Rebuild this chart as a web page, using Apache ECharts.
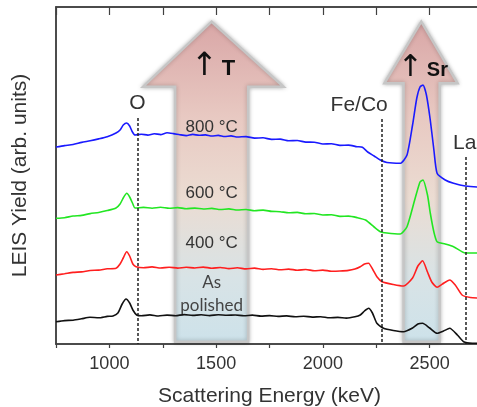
<!DOCTYPE html>
<html><head><meta charset="utf-8">
<script src="https://cdn.jsdelivr.net/npm/echarts@6.0.0/dist/echarts.min.js"></script>
<style>html,body{margin:0;padding:0;background:#fff}#c{width:477px;height:407px}</style>
</head><body><div id="c"></div>
<script>
// Scattering energy (keV) vs LEIS yield (arbitrary units, offset spectra)
const asPolished = [[750,22.3],[790,23.4],[830,23.8],[870,25.2],[909,26.7],[950,26.2],[990,27.6],[1017,28],[1040,31],[1060,40],[1078,45],[1095,41],[1110,34],[1128,29],[1150,28.2],[1190,29.1],[1230,28.0],[1270,28.9],[1310,28.3],[1350,29.4],[1390,28.6],[1430,29.2],[1470,28.4],[1510,29.3],[1550,28.7],[1590,29.0],[1630,28.2],[1670,28.9],[1710,27.9],[1750,28.4],[1790,27.6],[1830,28.1],[1870,27.2],[1910,27.8],[1950,26.9],[1990,27.3],[2030,26.2],[2070,26.6],[2110,25.9],[2150,27.2],[2175,29],[2195,33],[2214,35.7],[2232,31],[2253,20.7],[2284,15.7],[2330,13.5],[2378,12.3],[2420,16],[2445,20],[2467,20.7],[2500,16],[2535,10.7],[2565,13],[2594,15.7],[2630,9],[2659,2.3],[2700,0.8],[2750,0.7]];
const c400 = [[750,69],[790,70.2],[830,71.6],[870,72.1],[910,73.5],[950,73.9],[990,75.2],[1031,75.7],[1050,80],[1065,86],[1081,92.3],[1095,88],[1110,80],[1125,77.3],[1160,76.2],[1200,77.1],[1240,76.0],[1280,76.8],[1320,75.9],[1360,76.7],[1400,76],[1440,76.9],[1480,75.8],[1520,76.5],[1560,75.4],[1600,76.2],[1640,75.1],[1680,75.9],[1720,74.6],[1760,75.3],[1800,74.2],[1840,74.9],[1880,73.8],[1920,74.5],[1960,73.2],[2000,73.9],[2040,72.8],[2080,73],[2120,73.6],[2150,75],[2175,77.3],[2195,80],[2214,80.7],[2235,74],[2253,67.3],[2277,62.3],[2330,59.5],[2378,58],[2420,66],[2445,78],[2467,83.3],[2490,72],[2510,62],[2535,56.7],[2560,60],[2594,64],[2620,59],[2652,49],[2690,46.5],[2750,45.7]];
const c600 = [[750,125.7],[790,126.3],[830,128],[870,128.6],[910,130.4],[950,131.5],[990,133.4],[1031,136],[1050,140],[1065,146],[1081,150.7],[1095,147],[1110,140],[1120,136],[1160,136.6],[1200,135.8],[1240,136.7],[1280,135.7],[1320,136.4],[1360,135.3],[1400,135.9],[1440,135.0],[1480,135.6],[1520,134.5],[1560,135.1],[1600,134],[1640,134.5],[1680,133.3],[1720,133.9],[1760,132.6],[1800,132.3],[1840,131.2],[1880,131.6],[1920,130.2],[1960,130.5],[2000,129],[2040,129.3],[2080,127.6],[2120,127.9],[2160,126.4],[2200,124],[2240,117],[2269,112.3],[2300,111],[2362,110],[2394,117.3],[2430,144],[2455,162],[2469,164],[2490,149],[2503,131],[2520,112],[2535,102.3],[2573,100],[2612,97.3],[2667,91],[2750,91]];
const c800 = [[750,197],[790,198.4],[830,199.5],[870,201.6],[910,203.2],[950,205.1],[990,207.3],[1031,211],[1050,214],[1065,219],[1081,221],[1095,218],[1108,212],[1120,209],[1150,209.8],[1180,208.9],[1210,210.3],[1240,209.4],[1270,211.2],[1300,210.4],[1330,209.3],[1360,208.4],[1390,209.6],[1420,208.7],[1450,209.1],[1480,208.0],[1510,208.6],[1540,207.5],[1570,208.1],[1600,207],[1640,207.4],[1680,205.9],[1720,206.2],[1760,204.6],[1800,204.9],[1840,203.2],[1880,203.5],[1920,201.9],[1960,201.8],[2000,200],[2040,200.3],[2080,198.6],[2120,198.9],[2160,197.3],[2185,196.8],[2210,192],[2240,188],[2269,184],[2300,181.5],[2362,180.7],[2394,189],[2420,219],[2440,246],[2455,257],[2469,259],[2485,249],[2503,224],[2520,194],[2535,170.7],[2573,164],[2612,160.7],[2667,158],[2750,156.7]];
const xTickLabels = [1000,1500,2000,2500];
const elementNames = ['O','Fe/Co','La'];
const elementEnergies = [1131,2277,2670];
const tempLabels = ['800 °C','600 °C','400 °C','As','polished'];

const FONT = "'Liberation Sans', Arial, sans-serif";
const axisColor = '#404040';
const chart = echarts.init(document.getElementById('c'), null, {renderer:'canvas'});

const mk = (name, data, color, z) => ({
  name, type:'line', data, showSymbol:false, smooth:0.2, z,
  lineStyle:{color, width:1.6}, itemStyle:{color}, animation:false
});

const s0 = mk('As polished', asPolished, '#111111', 5);
s0.markLine = {
  silent:true, symbol:['none','none'], animation:false,
  label:{show:false},
  lineStyle:{type:[3,2], color:'#222', width:1.5},
  data:[
    [{coord:[elementEnergies[0],226]},{coord:[elementEnergies[0],0]}],
    [{coord:[elementEnergies[1],225]},{coord:[elementEnergies[1],0]}],
    [{coord:[elementEnergies[2],187]},{coord:[elementEnergies[2],0]}]
  ]
};

chart.setOption({
  animation:false,
  grid:{left:56, right:-6, top:7, bottom:63, containLabel:false, outerBoundsMode:'none',
        show:true, borderColor:axisColor, borderWidth:1.5, backgroundColor:'transparent'},
  xAxis:[{
    type:'value', min:750, max:2750, interval:250, position:'bottom', gridIndex:0,
    axisLine:{show:true, onZero:false, lineStyle:{color:axisColor, width:1.5}},
    axisTick:{show:true, inside:false, length:4, lineStyle:{color:axisColor, width:1.2}},
    axisLabel:{formatter:v => xTickLabels.includes(v) ? String(v) : '', color:'#333', fontSize:18, fontFamily:FONT, margin:11},
    splitLine:{show:false},
    name:'Scattering Energy (keV)', nameLocation:'middle', nameGap:42,
    nameTextStyle:{color:'#333', fontSize:21, fontFamily:FONT}
  },{
    show:true, type:'value', min:750, max:2750, interval:250, position:'top', gridIndex:0,
    axisLine:{show:true, onZero:false, lineStyle:{color:axisColor, width:1.5}},
    axisTick:{show:true, inside:true, length:8, lineStyle:{color:axisColor, width:1.2}},
    axisLabel:{show:false}, splitLine:{show:false}
  }],
  yAxis:{
    type:'value', min:0, max:337,
    axisLine:{show:true, onZero:false, lineStyle:{color:axisColor, width:1.5}},
    axisTick:{show:false}, axisLabel:{show:false}, splitLine:{show:false},
    name:'LEIS Yield (arb. units)', nameLocation:'middle', nameGap:25,
    nameTextStyle:{color:'#333', fontSize:21, fontFamily:FONT}
  },
  series:[
    s0,
    mk('400 °C', c400, '#ff1f1f', 4),
    mk('600 °C', c600, '#22e622', 4),
    mk('800 °C', c800, '#1a1aff', 4),
    {type:'line', xAxisIndex:1, data:[], showSymbol:false, silent:true}
  ]
});

const P = (e, v) => chart.convertToPixel({xAxisIndex:0, yAxisIndex:0}, [e, v]);
const grad = {type:'linear', x:0, y:0, x2:0, y2:1, colorStops:[
  {offset:0, color:'#d9a6a6'},{offset:0.3, color:'#e8c9c2'},{offset:0.55, color:'#ebdcd2'},{offset:0.8, color:'#d8e3e6'},{offset:1, color:'#cde2ea'}]};
function arrow(sh, hd, tipE, top, base, bottom) {
  const pts = [P(sh[0],bottom), P(sh[0],base), P(hd[0],base), P(tipE,top), P(hd[1],base), P(sh[1],base), P(sh[1],bottom)];
  return {type:'polygon', z:1, shape:{points:pts},
    style:{fill:grad, stroke:'#c6c6c6', lineWidth:2.5, shadowBlur:4, shadowColor:'rgba(0,0,0,0.25)'}};
}
function txt(s, e, v, font, fill, align) {
  const p = P(e, v);
  return {type:'text', z:10, x:p[0], y:p[1], style:{text:s, font, fill, align:align||'center', verticalAlign:'middle'}};
}
function upTxt(s, e, v, size) {
  const p = P(e, v);
  return {type:'text', z:10, x:p[0], y:p[1], style:{
    text:'{a|↑}{b|' + s + '}', align:'center', verticalAlign:'middle',
    rich:{a:{fontSize:size+10, fontFamily:"'DejaVu Sans', sans-serif", fill:'#111', padding:[0,4,4,0]},
          b:{fontSize:size, fontWeight:'bold', fontFamily:FONT, fill:'#111'}}
  }};
}
const tempFont = "17px " + FONT;
chart.setOption({graphic:[
  arrow([1308,1650],[1158,1816],1479,322.3,257.3,2.3),
  arrow([2378,2547],[2288,2631],2461,322.3,260.7,2.3),
  upTxt('T', 1486, 275, 22),
  upTxt('Sr', 2468, 274, 20),
  txt(tempLabels[0], 1479, 217, tempFont, '#333'),
  txt(tempLabels[1], 1479, 151, tempFont, '#333'),
  txt(tempLabels[2], 1479, 101, tempFont, '#333'),
  txt(tempLabels[3], 1479, 61, "17px Lato, " + FONT, '#444'),
  txt(tempLabels[4], 1479, 38, "17px Lato, " + FONT, '#444'),
  txt(elementNames[0], 1131, 241, "21px " + FONT, '#333'),
  txt(elementNames[1], 2170, 239, "21px " + FONT, '#333'),
  txt(elementNames[2], 2610, 201, "21px " + FONT, '#333', 'left')
]});
</script></body></html>
